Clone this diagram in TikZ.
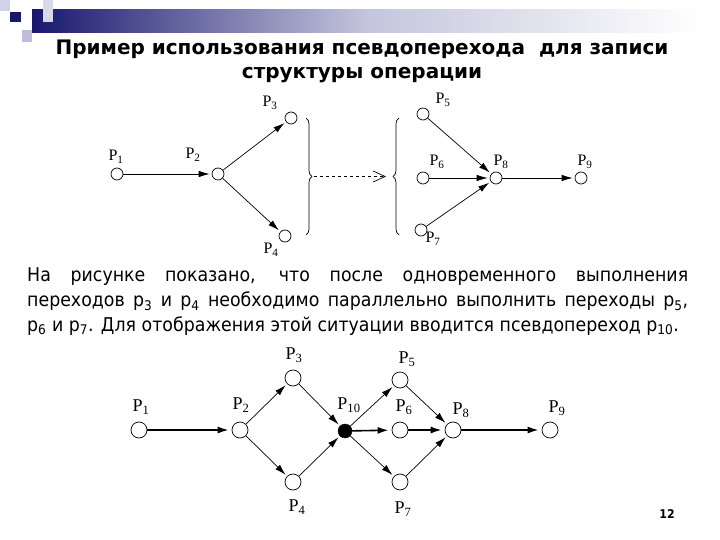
\documentclass[tikz,border=0pt]{standalone}
\usepackage{fontspec}
\setmainfont{Liberation Serif}
\newfontfamily\bodyfont[FakeStretch=0.915]{DejaVu Sans}
\newfontfamily\titlefont{DejaVu Sans}
\usetikzlibrary{arrows.meta,decorations.pathreplacing}
\definecolor{navy}{RGB}{24,24,110}
\definecolor{lav}{RGB}{190,190,220}
\newcommand{\Pl}[1]{P\textsubscript{#1}}
\begin{document}
\begin{tikzpicture}[x=1pt,y=-1pt,
  place/.style={circle,draw,line width=0.7pt,minimum size=12pt,inner sep=0pt},
  bplace/.style={circle,draw,line width=0.7pt,minimum size=16pt,inner sep=0pt},
  dplace/.style={circle,draw,fill=black,minimum size=14pt,inner sep=0pt},
  lab/.style={font=\fontsize{16}{16}\selectfont,inner sep=0pt},
  blab/.style={font=\fontsize{18}{18}\selectfont,inner sep=0pt},
  arr/.style={line width=0.7pt,-{Latex[length=11pt,width=6.5pt]},shorten >=2pt},
  tarr/.style={line width=1.6pt,-{Latex[length=11pt,width=7pt]},shorten >=3pt},
  body/.style={font=\bodyfont\fontsize{19}{19}\selectfont,inner sep=0pt,anchor=base west},
  ttl/.style={font=\titlefont\bfseries\fontsize{20}{20}\selectfont,inner sep=0pt,anchor=base}]
\useasboundingbox (0,0) rectangle (720,540);
% header decoration
\shade[left color=navy,right color=white,middle color=lav!80!navy!60] (32,10) rectangle (700,33);
\fill[lav!70] (0,0) rectangle (10,11);
\fill[lav!60] (43,0) rectangle (53,22);
\fill[navy] (10,12) rectangle (21,22);
\fill[lav] (22,30) rectangle (32,42);
% title
\node[ttl] (t1) at (362,55) {Пример использования псевдоперехода\ \ для записи};
\node[ttl] (t2) at (362,79) {структуры операции};
% top diagram
\node[place] (a1) at (117,174) {};
\node[place] (a2) at (218,174) {};
\node[place] (a3) at (291,118) {};
\node[place] (a4) at (285,236) {};
\node[place] (a5) at (423,114) {};
\node[place] (a6) at (423,178) {};
\node[place] (a7) at (421,230) {};
\node[place] (a8) at (496,178) {};
\node[place] (a9) at (581,178) {};
\node[lab] (la1) at (116,157) {\Pl{1}};
\node[lab] (la2) at (193,155) {\Pl{2}};
\node[lab] (la3) at (270,103) {\Pl{3}};
\node[lab] (la4) at (271,250) {\Pl{4}};
\node[lab] (la5) at (443,100) {\Pl{5}};
\node[lab] (la6) at (437,162) {\Pl{6}};
\node[lab] (la7) at (433,239) {\Pl{7}};
\node[lab] (la8) at (501,162) {\Pl{8}};
\node[lab] (la9) at (585,162) {\Pl{9}};
\draw[arr] (a1) -- (a2);
\draw[arr] (a2) -- (a3);
\draw[arr] (a2) -- (a4);
\draw[arr] (a5) -- (a8);
\draw[arr] (a6) -- (a8);
\draw[arr] (a7) -- (a8);
\draw[arr] (a8) -- (a9);
\draw[line width=0.7pt,decorate,decoration={brace,amplitude=6pt}] (306,118) -- (306,235);
\draw[line width=0.7pt,decorate,decoration={brace,amplitude=6pt}] (399,235) -- (399,118);
\coordinate (bR) at (314,176.5);
\coordinate (bL) at (386,176.5);
\draw[line width=0.6pt,dashed,-{Straight Barb[length=12pt,width=11pt,line width=0.7pt]}] (bR) -- (bL);
% paragraph
\node[body] (p1) at (27,281.5) {\makebox[661pt][s]{На рисунке показано, что после одновременного выполнения}};
\node[body] (p2) at (27,306.5) {\makebox[661pt][s]{переходов p\textsubscript{3} и p\textsubscript{4} необходимо параллельно выполнить переходы p\textsubscript{5},}};
\node[body] (p3) at (27,331) {p\textsubscript{6} и p\textsubscript{7}. Для отображения этой ситуации вводится псевдопереход p\textsubscript{10}.};
% bottom diagram
\node[bplace] (b1) at (139,430) {};
\node[bplace] (b2) at (240,430) {};
\node[bplace] (b3) at (293,378) {};
\node[bplace] (b4) at (293,482) {};
\node[dplace] (b10) at (345,431) {};
\node[bplace] (b5) at (400,380) {};
\node[bplace] (b6) at (400,430) {};
\node[bplace] (b7) at (400,482) {};
\node[bplace] (b8) at (453,430) {};
\node[bplace] (b9) at (550,430) {};
\node[blab] (lb1) at (141,407) {\Pl{1}};
\node[blab] (lb2) at (241,405) {\Pl{2}};
\node[blab] (lb3) at (294,355) {\Pl{3}};
\node[blab] (lb4) at (297,507) {\Pl{4}};
\node[blab] (lb10) at (349,405) {\Pl{10}};
\node[blab] (lb5) at (407,359) {\Pl{5}};
\node[blab] (lb6) at (404,407) {\Pl{6}};
\node[blab] (lb7) at (403,509) {\Pl{7}};
\node[blab] (lb8) at (461,410) {\Pl{8}};
\node[blab] (lb9) at (557,408) {\Pl{9}};
\draw[tarr] (b1) -- (b2);
\draw[arr] (b2) -- (b3);
\draw[arr] (b2) -- (b4);
\draw[arr] (b3) -- (b10);
\draw[arr] (b4) -- (b10);
\draw[arr] (b10) -- (b5);
\draw[tarr] (b10) -- (b6);
\draw[arr] (b10) -- (b7);
\draw[arr] (b5) -- (b8);
\draw[tarr] (b6) -- (b8);
\draw[arr] (b7) -- (b8);
\draw[tarr] (b8) -- (b9);
% page number
\node[font=\bodyfont\bfseries\fontsize{12}{12}\selectfont,inner sep=0pt] (pg) at (667,514) {12};
\end{tikzpicture}
\end{document}
